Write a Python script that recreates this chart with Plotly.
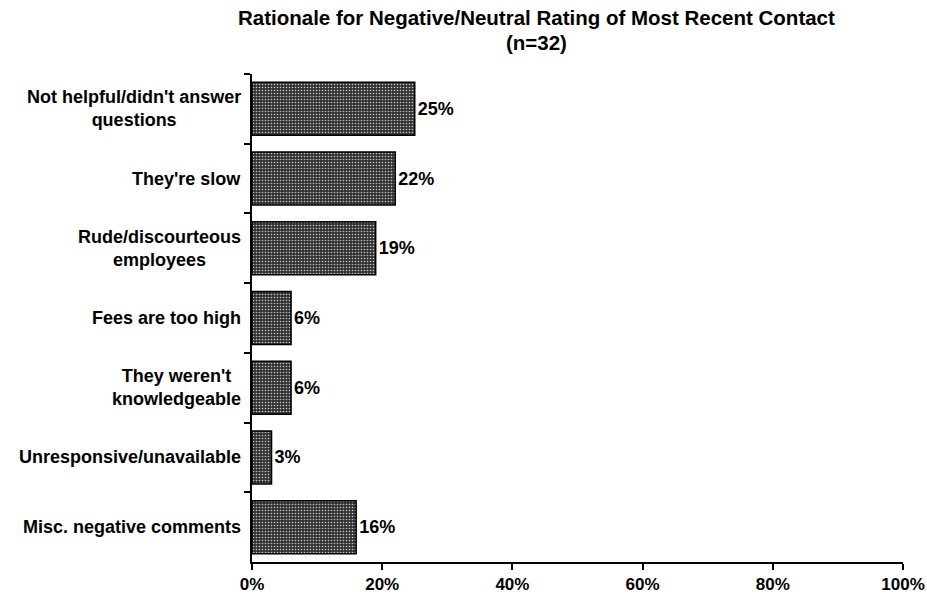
import plotly.graph_objects as go

# Survey responses, in display order (top to bottom)
reasons = [
    "Not helpful/didn't answer<br>questions",
    "They're slow",
    "Rude/discourteous<br>employees",
    "Fees are too high",
    "They weren't<br>knowledgeable",
    "Unresponsive/unavailable",
    "Misc. negative comments",
]
percents = [25, 22, 19, 6, 6, 3, 16]

x_ticks = [0, 20, 40, 60, 80, 100]
x_tick_labels = ["0%", "20%", "40%", "60%", "80%", "100%"]

title_lines = ["Rationale for Negative/Neutral Rating of Most Recent Contact", "(n=32)"]

FONT = "Arial, Liberation Sans, Helvetica, sans-serif"
BOLD18 = dict(family=FONT, size=18, color="#000000", weight="bold")
TITLE_FONT = dict(family=FONT, size=20.5, color="#000000", weight="bold")

fig = go.Figure(
    go.Bar(
        x=percents,
        y=reasons,
        orientation="h",
        width=0.76,
        marker=dict(
            color="#333333",
            line=dict(color="#000000", width=1.5),
            pattern=dict(
                shape=".",
                fillmode="replace",
                bgcolor="#333333",
                fgcolor="#c8c8c8",
                size=3,
                solidity=0.22,
            ),
        ),
        text=[f"{v}%" for v in percents],
        textposition="outside",
        textfont=BOLD18,
        cliponaxis=False,
        hoverinfo="skip",
    )
)

# Centered, multi-line category labels to the left of the axis
for name in reasons:
    fig.add_annotation(
        x=0,
        y=name,
        xref="x",
        yref="y",
        text=name,
        showarrow=False,
        xanchor="right",
        yanchor="middle",
        align="center",
        xshift=-9,
        font=BOLD18,
    )

# Two-line heading above the plot (paper x is relative to the plot area)
for line, shift in zip(title_lines, [57, 32]):
    fig.add_annotation(
        x=(536 - 252) / 651,
        y=1,
        xref="paper",
        yref="paper",
        xanchor="center",
        yanchor="middle",
        yshift=shift,
        text=line,
        showarrow=False,
        font=TITLE_FONT,
    )

fig.update_layout(
    width=927,
    height=601,
    autosize=False,
    margin=dict(l=252, r=24, t=74, b=39, autoexpand=False),
    paper_bgcolor="#ffffff",
    plot_bgcolor="#ffffff",
    showlegend=False,
    bargap=0.24,
    xaxis=dict(
        range=[0, 100],
        tickmode="array",
        tickvals=x_ticks,
        ticktext=x_tick_labels,
        ticks="outside",
        ticklen=6,
        tickwidth=1.5,
        tickcolor="#000000",
        showline=True,
        linecolor="#000000",
        linewidth=1.5,
        showgrid=False,
        zeroline=False,
        automargin=False,
        tickfont=dict(family=FONT, size=17, color="#000000", weight="bold"),
        fixedrange=True,
    ),
    yaxis=dict(
        categoryorder="array",
        categoryarray=reasons,
        autorange="reversed",
        showticklabels=False,
        tickson="boundaries",
        ticks="outside",
        ticklen=6,
        tickwidth=1.5,
        tickcolor="#000000",
        showline=True,
        linecolor="#000000",
        linewidth=1.5,
        showgrid=False,
        zeroline=False,
        automargin=False,
        fixedrange=True,
    ),
)

fig.write_html("out.html")
